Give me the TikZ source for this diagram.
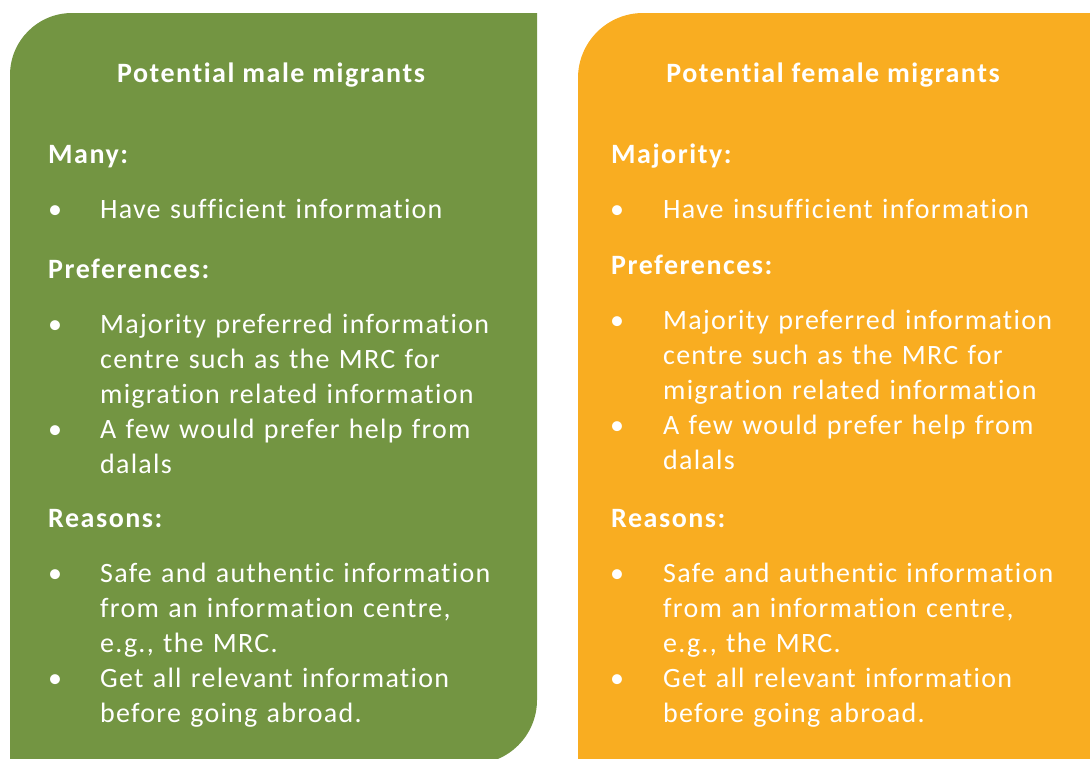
\documentclass[tikz,border=0pt]{standalone}
\usepackage{fontspec}
\setmainfont{Carlito}[LetterSpace=4.5, Ligatures={NoCommon}, BoldFeatures={LetterSpace=5.5}]
\usepackage{xcolor}
\usetikzlibrary{positioning}
\definecolor{malegreen}{HTML}{739542}
\definecolor{femaleorange}{HTML}{F9AD21}
\newcommand{\dotmark}{\textbullet}

\begin{document}
\begin{tikzpicture}[x=1pt, y=-1pt, every node/.style={font=\fontsize{28}{35}\selectfont, text=white, inner sep=0pt, anchor=base west},
  heading/.style={font=\fontsize{28}{35}\selectfont\bfseries},
  bodytext/.style={text width=430pt, align=left},
  dotnode/.style={anchor=base}]
\useasboundingbox (0,0) rectangle (1090,758);
\clip (0,0) rectangle (1090,758);
% Panels
\fill[malegreen] (10,790) -- (10,75) arc[start angle=180, end angle=270, radius=62] -- (537,13) -- (537,700) arc[start angle=0, end angle=90, radius=64] -- (10,764) -- cycle;
\fill[femaleorange] (578,790) -- (578,78) arc[start angle=180, end angle=270, radius=65] -- (1100,13) -- (1100,790) -- cycle;
% Potential male migrants
\node[heading, anchor=base] (titlemale) at (271,82) {Potential male migrants};
\node[heading] (manymale) at (48,163) {Many:};
\node[dotnode] (dotmale1) at (55,218) {\dotmark};
\node[bodytext] (itemmale1) at (100,218) {Have sufficient information};
\node[heading] (prefmale) at (48,278) {Preferences:};
\node[dotnode] (dotmale2) at (55,333) {\dotmark};
\node[bodytext] (itemmale2) at (100,333) {Majority preferred information\\centre such as the MRC for\\migration related information};
\node[dotnode] (dotmale3) at (55,438) {\dotmark};
\node[bodytext] (itemmale3) at (100,438) {A few would prefer help from\\dalals};
\node[heading] (reasonmale) at (48,527) {Reasons:};
\node[dotnode] (dotmale4) at (55,582) {\dotmark};
\node[bodytext] (itemmale4) at (100,582) {Safe and authentic information\\from an information centre,\\e.g., the MRC.};
\node[dotnode] (dotmale5) at (55,687) {\dotmark};
\node[bodytext] (itemmale5) at (100,687) {Get all relevant information\\before going abroad.};
% Potential female migrants
\node[heading, anchor=base] (titlefemale) at (833,82) {Potential female migrants};
\node[heading] (majfemale) at (611,163) {Majority:};
\node[dotnode] (dotfemale1) at (617,218) {\dotmark};
\node[bodytext] (itemfemale1) at (663,218) {Have insufficient information};
\node[heading] (preffemale) at (611,274) {Preferences:};
\node[dotnode] (dotfemale2) at (617,329) {\dotmark};
\node[bodytext] (itemfemale2) at (663,329) {Majority preferred information\\centre such as the MRC for\\migration related information};
\node[dotnode] (dotfemale3) at (617,434) {\dotmark};
\node[bodytext] (itemfemale3) at (663,434) {A few would prefer help from\\dalals};
\node[heading] (reasonfemale) at (611,527) {Reasons:};
\node[dotnode] (dotfemale4) at (617,582) {\dotmark};
\node[bodytext] (itemfemale4) at (663,582) {Safe and authentic information\\from an information centre,\\e.g., the MRC.};
\node[dotnode] (dotfemale5) at (617,687) {\dotmark};
\node[bodytext] (itemfemale5) at (663,687) {Get all relevant information\\before going abroad.};
\end{tikzpicture}
\end{document}
